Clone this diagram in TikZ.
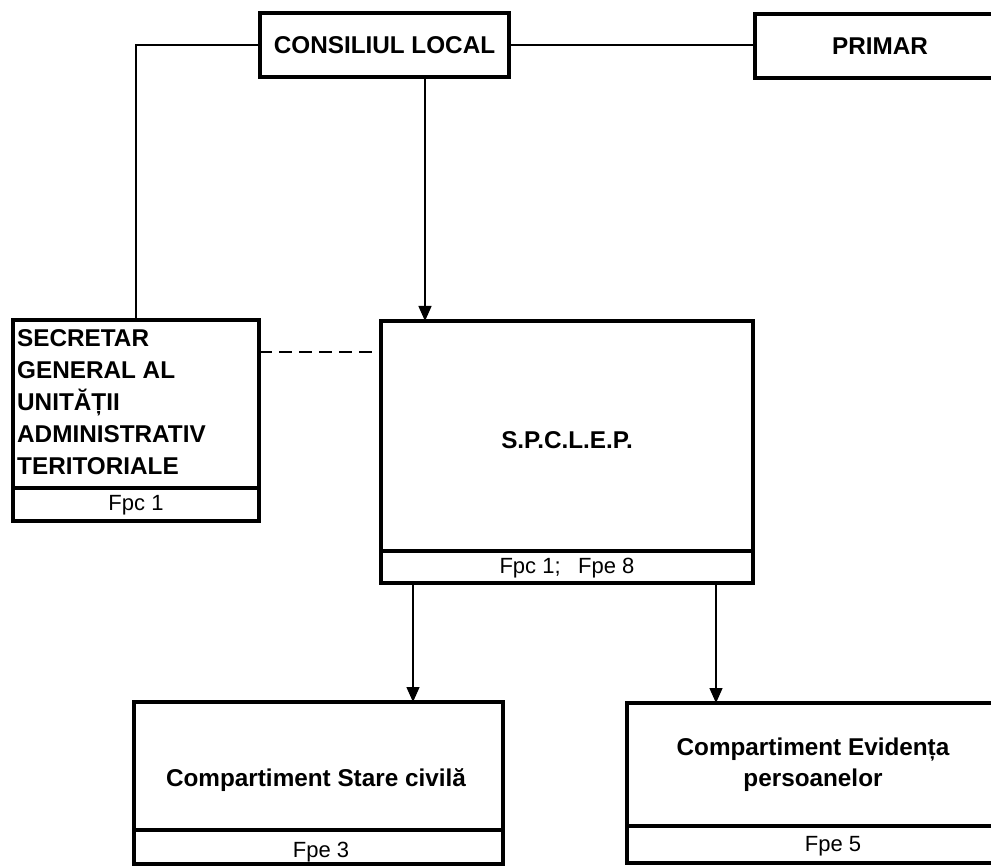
\documentclass[tikz,border=0pt]{standalone}
\usepackage{fontspec}
\setmainfont{Liberation Sans}
\usetikzlibrary{arrows.meta}
\begin{document}
\begin{tikzpicture}[x=1pt,y=-1pt,
  frame/.style={draw, rectangle, line width=3.4pt, inner sep=0pt, outer sep=0pt},
  btxt/.style={font=\bfseries\fontsize{24.3}{32}\selectfont, inner sep=0pt},
  rtxt/.style={font=\fontsize{22}{26}\selectfont, inner sep=0pt, anchor=base},
  conn/.style={line width=1.4pt},
  arr/.style={line width=1.4pt, -{Triangle[length=15pt,width=13pt]}},
]
\clip (0,0) rectangle (991,866);
\fill[white] (0,0) rectangle (991,866);

% top row
\node[frame, btxt, minimum width=249pt, minimum height=64pt, anchor=north west] (cl) at (260,13) {CONSILIUL LOCAL};
\node[frame, btxt, minimum width=250pt, minimum height=64pt, anchor=north west] (pr) at (755,14) {PRIMAR};

% secretar
\node[frame, minimum width=246pt, minimum height=168pt, anchor=north west] (sec) at (13,320) {};
\node[frame, minimum width=246pt, minimum height=33pt, anchor=north] (secf) at (sec.south) {};
\node[btxt, align=left, anchor=west] (sect) at (17,402) {SECRETAR\\GENERAL AL\\UNITĂȚII\\ADMINISTRATIV\\TERITORIALE};
\node[rtxt] (secft) at (136,511) {Fpc 1};

% SPCLEP
\node[frame, minimum width=372pt, minimum height=230pt, anchor=north west] (sp) at (381,321) {};
\node[frame, minimum width=372pt, minimum height=32pt, anchor=north] (spf) at (sp.south) {};
\node[btxt] (spt) at (567,440) {S.P.C.L.E.P.};
\node[rtxt] (spft) at (567,573) {Fpc 1;\hspace{0.8em}Fpe 8};

% Stare civila
\node[frame, minimum width=369pt, minimum height=128pt, anchor=north west] (sc) at (134,702) {};
\node[frame, minimum width=369pt, minimum height=34pt, anchor=north] (scf) at (sc.south) {};
\node[btxt, anchor=base] (sct) at (316,786) {Compartiment Stare civilă};
\node[rtxt] (scft) at (321,857) {Fpe 3};

% Evidenta
\node[frame, minimum width=420pt, minimum height=123pt, anchor=north west] (ev) at (627,703) {};
\node[frame, minimum width=420pt, minimum height=37pt, anchor=north] (evf) at (ev.south) {};
\node[btxt, align=center, font=\bfseries\fontsize{24.3}{31}\selectfont] (evt) at (813,765) {Compartiment Evidența\\persoanelor};
\node[rtxt] (evft) at (833,851) {Fpe 5};

% helper coordinates
\coordinate (xa) at (425,0);
\coordinate (xb) at (413,0);
\coordinate (xc) at (716,0);
\coordinate (yd) at (0,352);

% connectors
\draw[conn] (cl.west) -| (sec.north);
\draw[conn] (cl.east) -- (cl.east -| pr.west);
\draw[arr] (cl.south -| xa) -- (sp.north -| xa);
\draw[conn, dash pattern=on 13pt off 7pt] (sec.east |- yd) -- (sp.west |- yd);
\draw[arr] (spf.south -| xb) -- (sc.north -| xb);
\draw[arr] (spf.south -| xc) -- (ev.north -| xc);
\end{tikzpicture}
\end{document}
